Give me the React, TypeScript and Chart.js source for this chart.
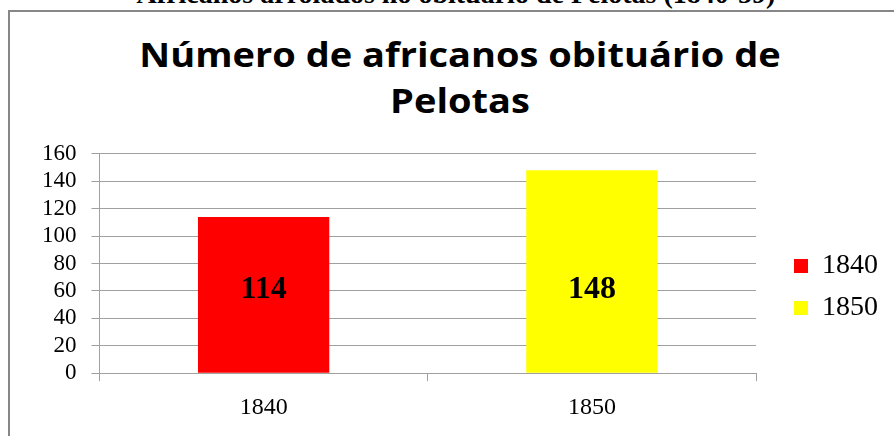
import React, { useEffect, useRef } from "react";
import { Chart, registerables } from "chart.js";

Chart.register(...registerables);

const CAPTION = "Africanos arrolados no obituário de Pelotas (1840-59)";
const TITLE_LINES = ["Número de africanos obituário de", "Pelotas"];
const CATEGORIES = ["1840", "1850"];
const VALUES = [114, 148];
const BAR_COLORS = ["#ff0000", "#ffff00"];
const Y_MIN = 0;
const Y_MAX = 160;
const Y_STEP = 20;
const LABEL_LEVEL = 61;

const SERIF = '"Liberation Serif", "Times New Roman", serif';
const GRID = "#a0a0a0";

const valueLabels = {
  id: "valueLabels",
  afterDatasetsDraw(chart: any) {
    const ctx = chart.ctx;
    const meta = chart.getDatasetMeta(0);
    const y = chart.scales.y.getPixelForValue(LABEL_LEVEL);
    ctx.save();
    ctx.font = `bold 32px ${SERIF}`;
    ctx.fillStyle = "#000";
    ctx.textAlign = "center";
    ctx.textBaseline = "middle";
    meta.data.forEach((bar: any, i: number) => {
      ctx.fillText(String(VALUES[i]), bar.x, y);
    });
    ctx.restore();
  },
};

export default function App() {
  const ref = useRef<HTMLCanvasElement | null>(null);

  useEffect(() => {
    if (!ref.current) return;
    const chart = new Chart(ref.current, {
      type: "bar",
      data: {
        labels: CATEGORIES,
        datasets: [
          {
            label: "Africanos",
            data: VALUES,
            backgroundColor: BAR_COLORS,
            borderWidth: 0,
            barPercentage: 0.4,
            categoryPercentage: 1,
          },
        ],
      },
      options: {
        responsive: false,
        animation: false,
        layout: { padding: { left: 18, right: 6, top: 15, bottom: 15 } },
        plugins: {
          title: { display: false },
          tooltip: { enabled: false },
          legend: {
            display: true,
            position: "right",
            align: "center",
            labels: {
              boxWidth: 14,
              boxHeight: 14,
              padding: 14,
              color: "#000",
              font: { family: SERIF, size: 28 },
              generateLabels: () =>
                CATEGORIES.map((c, i) => ({
                  text: c,
                  fillStyle: BAR_COLORS[i],
                  strokeStyle: BAR_COLORS[i],
                  lineWidth: 0,
                  hidden: false,
                  index: i,
                  fontColor: "#000",
                })),
            },
          },
        },
        scales: {
          x: {
            offset: true,
            grid: {
              offset: true,
              drawOnChartArea: false,
              drawTicks: true,
              tickLength: 8,
              color: GRID,
            },
            border: { display: true, color: GRID, width: 1 },
            ticks: {
              color: "#000",
              padding: 12,
              font: { family: SERIF, size: 24 },
            },
          },
          y: {
            min: Y_MIN,
            max: Y_MAX,
            grid: { color: GRID, tickLength: 8, drawTicks: true },
            border: { display: true, color: GRID, width: 1 },
            ticks: {
              stepSize: Y_STEP,
              autoSkip: false,
              color: "#000",
              padding: 15,
              font: { family: SERIF, size: 23 },
            },
          },
          gap: {
            type: "linear",
            position: "right",
            display: true,
            grid: { display: false, drawTicks: false },
            border: { display: false },
            ticks: { display: false },
            afterFit: (s: any) => {
              s.width = 24;
            },
          },
        },
      },
      plugins: [valueLabels],
    } as any);
    return () => chart.destroy();
  }, []);

  return (
    <div
      style={{
        position: "fixed",
        left: 0,
        top: 0,
        width: 894,
        height: 436,
        overflow: "hidden",
        background: "#fff",
      }}
    >
      <div
        style={{
          position: "absolute",
          left: 0,
          width: 912,
          top: -22,
          textAlign: "center",
          fontFamily: SERIF,
          fontWeight: "bold",
          fontSize: 28,
          lineHeight: "31px",
          whiteSpace: "nowrap",
          color: "#000",
        }}
      >
        {CAPTION}
      </div>
      <div
        style={{
          position: "absolute",
          left: 8,
          top: 10,
          width: 1000,
          height: 1000,
          borderLeft: "2px solid #878787",
          borderTop: "2px solid #878787",
        }}
      />
      <div
        style={{
          position: "absolute",
          left: 0,
          width: 920,
          top: 31,
          textAlign: "center",
          fontFamily: '"Open Sans", sans-serif',
          fontWeight: "bold",
          fontSize: 38,
          lineHeight: "53px",
          color: "#000",
          whiteSpace: "nowrap",
          transform: "scaleY(0.87)",
          transformOrigin: "0 0",
        }}
      >
        {TITLE_LINES.map((t, i) => (
          <div key={i}>{t}</div>
        ))}
      </div>
      <canvas
        ref={ref}
        width={885}
        height={324}
        style={{ position: "absolute", left: 9, top: 125 }}
      />
    </div>
  );
}
